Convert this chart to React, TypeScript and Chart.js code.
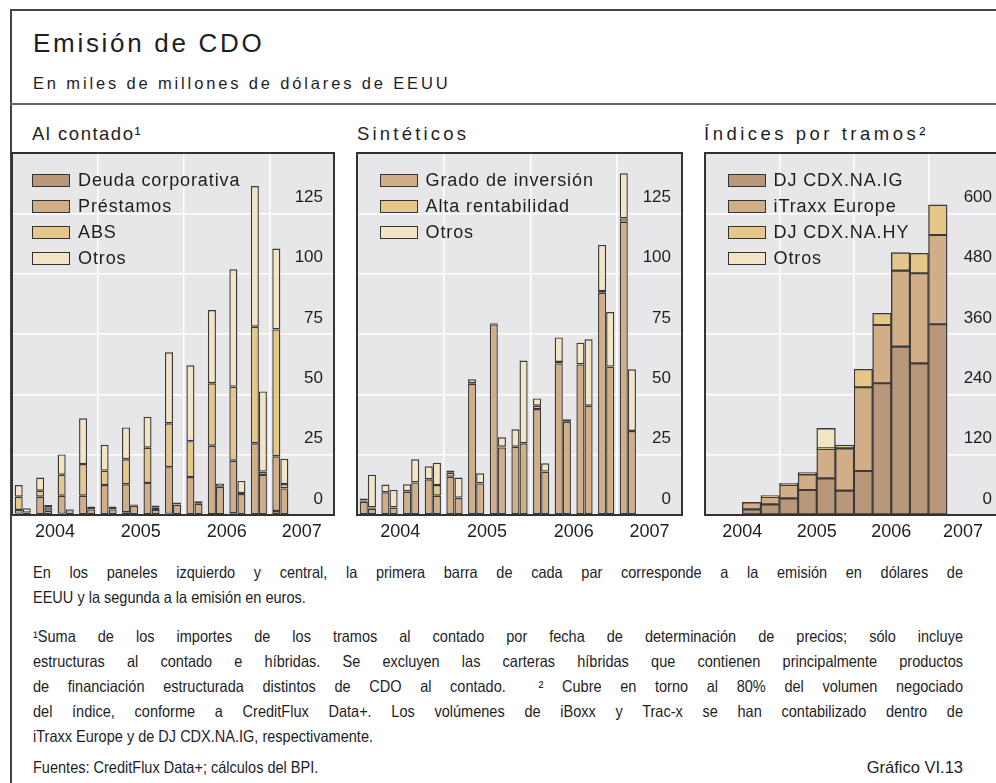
import React, { useEffect, useRef } from 'react';
import { Chart, registerables } from 'chart.js';

Chart.register(...registerables);

const FONT = '"Liberation Sans", Arial, Helvetica, sans-serif';
const NOTE_FONT = '"Liberation Sans Narrow", "Liberation Sans", Arial, sans-serif';

// ---------- categories ----------
const QUARTERS_15 = [
  '2004 T1', '2004 T2', '2004 T3', '2004 T4',
  '2005 T1', '2005 T2', '2005 T3', '2005 T4',
  '2006 T1', '2006 T2', '2006 T3', '2006 T4',
  '2007 T1', '2007 T2', '2007 T3',
];
const QUARTERS_16 = [
  '2004 T1', '2004 T2', '2004 T3', '2004 T4',
  '2005 T1', '2005 T2', '2005 T3', '2005 T4',
  '2006 T1', '2006 T2', '2006 T3', '2006 T4',
  '2007 T1', '2007 T2', '2007 T3', '2007 T4',
];
const YEAR_LABELS = ['2004', '2005', '2006', '2007'];

// ---------- Al contado (first bar = USD, second bar = EUR) ----------
const cashUsdDeuda = [0.5, 0.3, 0.5, 0.3, 0.4, 1.1, 0.3, 0.5, 0.3, 0.4, 0.7, 0.3, 1.7];
const cashUsdPrestamos = [1.6, 7.3, 7.5, 7.7, 12.0, 11.6, 13.0, 19.3, 15.4, 28.3, 21.8, 29.4, 22.6];
const cashUsdAbs = [5.5, 2.5, 8.7, 13.1, 6.0, 10.4, 14.6, 18.2, 14.9, 25.9, 30.7, 48.3, 52.6];
const cashUsdOtros = [4.8, 5.4, 8.4, 19.0, 10.7, 13.2, 12.8, 29.4, 31.4, 30.3, 48.6, 58.3, 33.5];
const cashEurDeuda = [0.3, 0.2, 0.3, 0.2, 0.2, 0.3, 0.3, 0.3, 0.2, 0.3, 0.3, 0.2, 0.3];
const cashEurPrestamos = [0.7, 1.6, 2.0, 2.1, 2.1, 3.5, 1.8, 3.9, 4.4, 11.4, 8.4, 16.4, 10.7];
const cashEurAbs = [0, 1.4, 0, 0, 0, 0.3, 0.9, 0.2, 0.3, 0, 0.4, 1.4, 1.8];
const cashEurOtros = [1.8, 0.9, 0.2, 1.2, 1.2, 0.3, 0.9, 0.8, 0.8, 1.4, 5.0, 33.2, 10.5];

// ---------- Sintéticos ----------
const synUsdGrado = [5.5, 9.4, 9.7, 14.8, 15.9, 54.3, 79.0, 28.3, 43.9, 62.8, 62.4, 92.1, 121.5];
const synUsdAlta = [0.5, 0, 0.2, 0, 1.6, 0.3, 0.3, 0, 1.4, 0.6, 0, 0.7, 1.4];
const synUsdOtros = [0.8, 3.2, 2.8, 5.4, 0.9, 1.6, 0.4, 7.2, 3.0, 10.2, 9.0, 19.1, 18.7];
const synEurGrado = [2.6, 3.0, 13.5, 8.0, 7.0, 13.1, 28.0, 29.7, 18.0, 38.6, 45.3, 61.5, 34.8];
const synEurAlta = [0.5, 0.2, 0, 4.4, 0.2, 0, 0.3, 0, 0, 0.3, 0, 0, 0];
const synEurOtros = [13.6, 7.2, 9.6, 9.3, 8.3, 4.2, 3.9, 34.3, 3.4, 0.8, 27.5, 22.6, 25.6];

// ---------- Índices por tramos ----------
const idxIG = [null, null, 11.3, 21.2, 33.2, 49.7, 72.9, 48.4, 87.5, 262, 334.9, 301.7, 379.3, null, null, null];
const idxITraxx = [null, null, 13.9, 14.6, 26.5, 31.2, 58.4, 84.2, 166.5, 116, 151.1, 179.1, 177.7, null, null, null];
const idxHY = [null, null, 0, 2.7, 3.3, 3.3, 1.5, 6.7, 35.8, 23.2, 35.8, 39.8, 59.7, null, null, null];
const idxOtros = [null, null, 0, 0, 0, 0, 39.6, 0, 0, 0, 0, 0, 0, null, null, null];

// ---------- styles ----------
const C_DARK = '#b8977a';
const C_MID = '#d1ae88';
const C_YEL = '#e5c78a';
const C_LIGHT = '#f2e5c6';
const BAR_BORDER = '#3a3a3a';
const PLOT_BG = '#e7e7ea';
const TEXT = '#1e1e1e';

const framePlugin = {
  id: 'frame',
  beforeDraw(chart: any) {
    const { ctx, chartArea: a } = chart;
    ctx.save();
    ctx.fillStyle = PLOT_BG;
    ctx.fillRect(a.left, a.top, a.right - a.left, a.bottom - a.top);
    ctx.restore();
  },
  afterDraw(chart: any) {
    const { ctx, chartArea: a } = chart;
    ctx.save();
    ctx.strokeStyle = '#333';
    ctx.lineWidth = 2;
    ctx.strokeRect(a.left, a.top, a.right - a.left, a.bottom - a.top);
    ctx.restore();
  },
};

function ds(label: string, data: any[], color: string, stack: string, catPct: number) {
  return {
    label,
    data,
    backgroundColor: color,
    borderColor: BAR_BORDER,
    borderWidth: 1.4,
    borderSkipped: false,
    stack,
    xAxisID: 'x',
    yAxisID: 'y',
    categoryPercentage: catPct,
    barPercentage: 1,
  };
}

type PanelProps = {
  left: number;
  top: number;
  width: number;
  height: number;
  labels: string[];
  datasets: any[];
  yMax: number;
  yStep: number;
  yearPos: number[];
};

function BarPanel(p: PanelProps) {
  const ref = useRef<HTMLCanvasElement>(null);
  useEffect(() => {
    if (!ref.current) return;
    const n = p.labels.length;
    const chart = new Chart(ref.current, {
      type: 'bar',
      data: { labels: p.labels, datasets: p.datasets },
      options: {
        animation: false,
        responsive: false,
        maintainAspectRatio: false,
        layout: { padding: { left: 2, top: 2, right: 2, bottom: 0 } },
        plugins: { legend: { display: false }, tooltip: { enabled: false } },
        scales: {
          x: {
            type: 'category',
            stacked: true,
            offset: true,
            ticks: { display: false },
            border: { display: false },
            grid: {
              offset: true,
              drawTicks: false,
              lineWidth: 1.5,
              color: (c: any) =>
                c.index > 0 && c.index < n && c.index % 4 === 0 ? '#ffffff' : 'rgba(0,0,0,0)',
            },
            afterFit: (s: any) => {
              s.height = 0;
              s.paddingLeft = 0;
              s.paddingRight = 0;
            },
          },
          x2: {
            type: 'linear',
            axis: 'x',
            position: 'bottom',
            offset: false,
            min: 0,
            max: n,
            grid: { display: false, drawTicks: false, offset: false },
            border: { display: false },
            ticks: {
              padding: 6,
              autoSkip: false,
              maxRotation: 0,
              minRotation: 0,
              color: TEXT,
              font: { family: FONT, size: 18 },
              callback: (_v: any, i: number) => YEAR_LABELS[i],
            },
            afterBuildTicks: (s: any) => {
              s.ticks = p.yearPos.map((value) => ({ value }));
            },
            afterFit: (s: any) => {
              s.height = 28;
              s.paddingLeft = 0;
              s.paddingRight = 0;
            },
          },
          y: {
            type: 'linear',
            position: 'right',
            stacked: true,
            min: 0,
            max: p.yMax,
            border: { display: false },
            grid: { color: '#ffffff', lineWidth: 1.5, drawTicks: false },
            ticks: {
              stepSize: p.yStep,
              mirror: true,
              padding: -11,
              labelOffset: -16,
              color: TEXT,
              font: { family: FONT, size: 17 },
              callback: (v: any) => (v === p.yMax ? '' : String(v)),
            },
            afterFit: (s: any) => {
              s.width = 0;
              s.paddingTop = 0;
              s.paddingBottom = 0;
            },
          },
        },
      } as any,
      plugins: [framePlugin],
    });
    return () => chart.destroy();
  }, []);
  return (
    <canvas
      ref={ref}
      width={p.width}
      height={p.height}
      style={{ position: 'absolute', left: p.left, top: p.top, width: p.width, height: p.height }}
    />
  );
}

type LegendItem = { label: string; color: string };

function Legend({ left, items }: { left: number; items: LegendItem[] }) {
  return (
    <>
      {items.map((it, i) => (
        <div
          key={it.label}
          style={{
            position: 'absolute',
            left,
            top: 167 + i * 26.3,
            height: 26,
            display: 'flex',
            alignItems: 'center',
            whiteSpace: 'nowrap',
          }}
        >
          <div
            style={{
              width: 38,
              height: 13,
              boxSizing: 'border-box',
              border: '1.5px solid #333',
              background: it.color,
              marginRight: 8,
            }}
          />
          <span style={{ fontFamily: FONT, fontSize: 18, color: TEXT, letterSpacing: 0.9 }}>{it.label}</span>
        </div>
      ))}
    </>
  );
}

const abs = (o: any): React.CSSProperties => ({ position: 'absolute', ...o });

const NOTE_SCALE = 0.88;

export default function App() {
  const cashSets = [
    ds('Deuda corporativa', cashUsdDeuda, C_DARK, 'usd', 0.75),
    ds('Préstamos', cashUsdPrestamos, C_MID, 'usd', 0.75),
    ds('ABS', cashUsdAbs, C_YEL, 'usd', 0.75),
    ds('Otros', cashUsdOtros, C_LIGHT, 'usd', 0.75),
    ds('Deuda corporativa (EUR)', cashEurDeuda, C_DARK, 'eur', 0.75),
    ds('Préstamos (EUR)', cashEurPrestamos, C_MID, 'eur', 0.75),
    ds('ABS (EUR)', cashEurAbs, C_YEL, 'eur', 0.75),
    ds('Otros (EUR)', cashEurOtros, C_LIGHT, 'eur', 0.75),
  ];
  const synSets = [
    ds('Grado de inversión', synUsdGrado, C_MID, 'usd', 0.75),
    ds('Alta rentabilidad', synUsdAlta, C_YEL, 'usd', 0.75),
    ds('Otros', synUsdOtros, C_LIGHT, 'usd', 0.75),
    ds('Grado de inversión (EUR)', synEurGrado, C_MID, 'eur', 0.75),
    ds('Alta rentabilidad (EUR)', synEurAlta, C_YEL, 'eur', 0.75),
    ds('Otros (EUR)', synEurOtros, C_LIGHT, 'eur', 0.75),
  ];
  const idxSets = [
    ds('DJ CDX.NA.IG', idxIG, C_DARK, 'all', 1),
    ds('iTraxx Europe', idxITraxx, C_MID, 'all', 1),
    ds('DJ CDX.NA.HY', idxHY, C_YEL, 'all', 1),
    ds('Otros', idxOtros, C_LIGHT, 'all', 1),
  ];

  const noteLine = (top: number, text: React.ReactNode, justify: boolean) => (
    <div
      style={abs({
        left: 33,
        top,
        width: 930 / NOTE_SCALE,
        height: 25,
        lineHeight: '25px',
        fontFamily: NOTE_FONT,
        fontSize: 16.5,
        color: TEXT,
        textAlign: justify ? 'justify' : 'left',
        textAlignLast: justify ? 'justify' : 'left',
        whiteSpace: 'nowrap',
        transform: `scaleX(${NOTE_SCALE})`,
        transformOrigin: '0 0',
      })}
    >
      {text}
    </div>
  );

  return (
    <div
      style={{
        position: 'fixed',
        left: 0,
        top: 0,
        width: 996,
        height: 783,
        overflow: 'hidden',
        background: '#ffffff',
        fontFamily: FONT,
        color: TEXT,
      }}
    >
      {/* frame */}
      <div style={abs({ left: 9.5, top: 8.5, width: 987, height: 2, background: '#444' })} />
      <div style={abs({ left: 9.5, top: 8.5, width: 2, height: 775, background: '#444' })} />
      <div style={abs({ left: 10, top: 102.5, width: 986, height: 2, background: '#666' })} />

      {/* titles */}
      <div style={abs({ left: 33, top: 27.5, lineHeight: '30px', fontSize: 26, letterSpacing: 2.7, whiteSpace: 'nowrap' })}>
        Emisión de CDO
      </div>
      <div style={abs({ left: 33, top: 72.5, lineHeight: '20px', fontSize: 16.5, letterSpacing: 2.85, whiteSpace: 'nowrap' })}>
        En miles de millones de dólares de EEUU
      </div>
      <div style={abs({ left: 32, top: 123, lineHeight: '22px', fontSize: 18.5, letterSpacing: 1.5, whiteSpace: 'nowrap' })}>
        Al contado¹
      </div>
      <div style={abs({ left: 357, top: 123, lineHeight: '22px', fontSize: 18.5, letterSpacing: 3.2, whiteSpace: 'nowrap' })}>
        Sintéticos
      </div>
      <div style={abs({ left: 704, top: 123, lineHeight: '22px', fontSize: 18.5, letterSpacing: 3.5, whiteSpace: 'nowrap' })}>
        Índices por tramos²
      </div>

      {/* charts */}
      <BarPanel left={10} top={151} width={326} height={392} labels={QUARTERS_15} datasets={cashSets} yMax={150} yStep={25} yearPos={[2, 6, 10, 13.5]} />
      <BarPanel left={355} top={151} width={329} height={392} labels={QUARTERS_15} datasets={synSets} yMax={150} yStep={25} yearPos={[2, 6, 10, 13.5]} />
      <BarPanel left={703} top={151} width={302} height={392} labels={QUARTERS_16} datasets={idxSets} yMax={720} yStep={120} yearPos={[2, 6, 10, 13.85]} />

      {/* legends */}
      <Legend
        left={32}
        items={[
          { label: 'Deuda corporativa', color: C_DARK },
          { label: 'Préstamos', color: C_MID },
          { label: 'ABS', color: C_YEL },
          { label: 'Otros', color: C_LIGHT },
        ]}
      />
      <Legend
        left={379.5}
        items={[
          { label: 'Grado de inversión', color: C_MID },
          { label: 'Alta rentabilidad', color: C_YEL },
          { label: 'Otros', color: C_LIGHT },
        ]}
      />
      <Legend
        left={727.5}
        items={[
          { label: 'DJ CDX.NA.IG', color: C_DARK },
          { label: 'iTraxx Europe', color: C_MID },
          { label: 'DJ CDX.NA.HY', color: C_YEL },
          { label: 'Otros', color: C_LIGHT },
        ]}
      />

      {/* notes */}
      {noteLine(560, 'En los paneles izquierdo y central, la primera barra de cada par corresponde a la emisión en dólares de', true)}
      {noteLine(585, 'EEUU y la segunda a la emisión en euros.', false)}
      {noteLine(623.5, '¹Suma de los importes de los tramos al contado por fecha de determinación de precios; sólo incluye', true)}
      {noteLine(648.5, 'estructuras al contado e híbridas. Se excluyen las carteras híbridas que contienen principalmente productos', true)}
      {noteLine(
        673.5,
        <>
          de financiación estructurada distintos de CDO al contado.
          <span style={{ display: 'inline-block', width: 16 }} /> ² Cubre en torno al 80% del volumen negociado
        </>,
        true
      )}
      {noteLine(698.5, 'del índice, conforme a CreditFlux Data+. Los volúmenes de iBoxx y Trac-x se han contabilizado dentro de', true)}
      {noteLine(723.5, 'iTraxx Europe y de DJ CDX.NA.IG, respectivamente.', false)}
      {noteLine(754.5, 'Fuentes: CreditFlux Data+; cálculos del BPI.', false)}
      <div
        style={abs({
          left: 763,
          top: 754.5,
          width: 200,
          lineHeight: '25px',
          fontFamily: NOTE_FONT,
          fontSize: 16.5,
          textAlign: 'right',
          color: TEXT,
        })}
      >
        Gráfico VI.13
      </div>
    </div>
  );
}
